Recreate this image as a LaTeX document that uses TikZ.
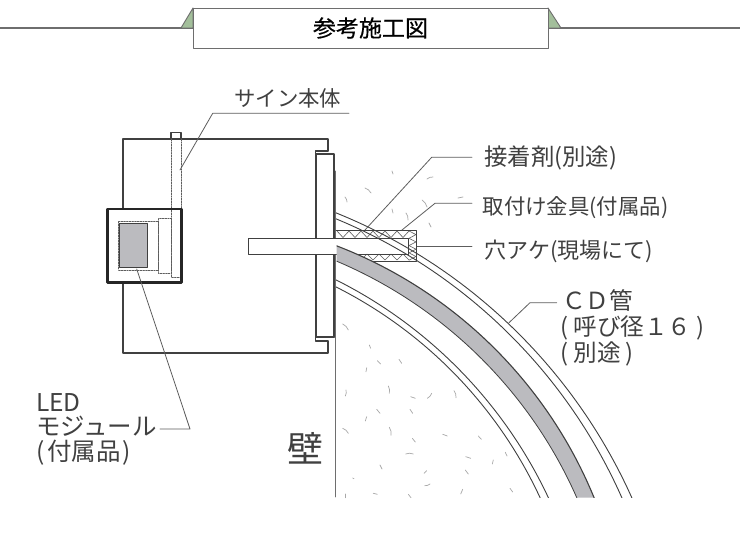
\documentclass[tikz,border=0pt]{standalone}
\usepackage{fontspec}
\setmainfont{Noto Sans CJK JP}
\newfontfamily\titlefont[FakeBold=0.5]{Noto Sans CJK JP}
\usetikzlibrary{positioning}
\definecolor{inkgray}{HTML}{404040}
\definecolor{framegray}{HTML}{6E6E6E}
\definecolor{tabgreen}{HTML}{A3BF9B}
\definecolor{fillgray}{HTML}{BBBBBF}
\definecolor{speckgray}{HTML}{A8A8A8}
\begin{document}
\begin{tikzpicture}[x=1pt, y=-1pt,
    line cap=round, line join=round,
    body/.style={draw=inkgray, line width=1.1pt},
    moduleframe/.style={draw=black!85, line width=2.2pt},
    hidden/.style={draw=inkgray!85, line width=0.7pt, dash pattern=on 1.6pt off 1.1pt},
    leader/.style={draw=inkgray!85, line width=0.8pt},
    curveline/.style={draw=inkgray, line width=0.9pt},
    filler/.style={draw=inkgray!85, line width=0.6pt},
    speck/.style={draw=speckgray, line width=0.7pt},
    caption/.style={anchor=west, inner sep=0pt, text=inkgray, align=left}]
\useasboundingbox (0,0) rectangle (740,540);
\fill[white] (0,0) rectangle (740,540);

% TITLE BAR
\draw[framegray, line width=1.2pt] (0,28) -- (740,28);
\filldraw[fill=tabgreen, draw=framegray, line width=0.9pt] (181,28) -- (193,8) -- (193,28) -- cycle;
\filldraw[fill=tabgreen, draw=framegray, line width=0.9pt] (548,8) -- (561,28) -- (548,28) -- cycle;
\node[draw=framegray, fill=white, line width=0.9pt, minimum width=355pt, minimum height=40pt,
  inner sep=0pt, font=\titlefont\fontsize{23}{25}\selectfont, text=black] (title) at (370.5,28) {参考施工図};

% SPECKLES
\foreach \xa/\ya/\xb/\yb in {345/197/347/202, 365/188/371/193, 392/171/393/174, 427/179/433/177,
    422/200/427/207, 392/209/393/213, 406/213/408/220, 429/223/431/227, 458/198/463/197,
    342.7/324/348.3/330, 369.3/345/370.7/348.3, 377.3/360.7/380.7/364, 399/359.3/401.7/363.3,
    366.7/367.7/366/371.7, 388.3/386/389.3/393.3, 346/390/345.3/396, 410.7/396.7/415.3/398.3,
    431.7/393.3/427.3/398.3, 454/390.7/456/397.7, 376.7/409.3/380/413.3, 410/409.3/412.7/413.3,
    366.7/416.7/365.3/421, 342.7/428.3/348.3/433.3, 389.3/427.3/391/435.3, 412.3/438.3/415.3/442,
    442.7/434.3/447.3/436, 478.3/436/481.3/439.3, 405.7/454/413.3/454, 465.7/456.7/470.7/458.3,
    505.3/452.3/507/456, 493.3/460/492.3/464, 380/465/382/469, 426.7/470.7/424/473.3,
    465.3/470/468.3/474, 352.7/478/354/478.7, 430/484/424.7/485.7, 373.3/493.3/377.3/494.3,
    408.3/494.3/411/497.7, 462.7/489.3/460.7/494, 510/488.3/512.7/492, 345/494/345/497.7}{
\draw[speck] (\xa,\ya) to[bend left=20] (\xb,\yb);
}

% SIGN BODY
\draw[body] (328,151) -- (328,139) -- (123,139) -- (123,353) -- (328,353) -- (328,341);
\draw[body] (328,151) -- (315.5,151) -- (315.5,154);
\draw[body] (328,341) -- (315.5,341) -- (315.5,337);
\draw[body, fill=white] (316,154) rectangle (334,337);
\draw[body] (171,139) -- (171,132.5) -- (181,132.5) -- (181,139);
\draw[hidden] (171,139) -- (171,209);
\draw[hidden] (181,139) -- (181,209);

% LED MODULE
\fill[white] (107.5,209) rectangle (181.5,282.5);
\draw[hidden] (181,209) -- (181,277) -- (171,277) -- (171,209);
\draw[hidden] (158.5,218.5) rectangle (171,273.5);
\draw[hidden] (118.5,221.5) rectangle (158.5,270);
\filldraw[fill=fillgray, draw=inkgray, line width=1.1pt] (119.5,223.5) rectangle (147.5,267.5);
\draw[moduleframe] (107.5,209) rectangle (181.5,282.5);

% WALL
\draw[framegray, line width=0.9pt] (335,171) -- (335,497);
\draw[inkgray, line width=1.6pt] (334.5,171) -- (334.5,238);
\draw[inkgray, line width=1.6pt] (334.5,254) -- (334.5,337);

% HOLE AND ADHESIVE
\draw[body, line width=0.9pt] (336,230) -- (416.5,230) -- (416.5,261) -- (352,261);
\foreach \i in {0,...,5}{
\draw[filler] (337+12*\i,231) -- ++(6,6.5) -- ++(6,-6.5);
}
\foreach \i in {0,...,3}{
\draw[filler] (361+12*\i,260) -- ++(6,-6) -- ++(6,6);
}
\foreach \i in {0,...,3}{
\draw[filler] (409,231+7.3*\i) -- ++(7,3.6) -- ++(-7,3.7);
}

% ANCHOR BOLT
\filldraw[fill=white, draw=none] (248,238) rectangle (335.5,254);
\draw[body, line width=0.9pt] (335,238) -- (248,238) -- (248,254) -- (335,254);
\draw[body, line width=0.9pt] (335,238) -- (408.5,238) -- (408.5,254) -- (335,254);

% CURVES
\begin{scope}
\clip (336,0) rectangle (740,497.5);
\draw[curveline] (131.4,721.4) circle (548);
\draw[curveline] (131.7,714.2) circle (535.7);
\draw[curveline] (129.4,693.8) circle (462.5);
\draw[curveline] (136.05,684.7) circle (445.1);
\end{scope}
\begin{scope}
\clip (336.5,0) rectangle (740,497.5);
\fill[fillgray] (336.5,245.7)
  arc[start angle={atan2(245.7-669.7,336.5-173.9)}, end angle={atan2(497.7-669.7,594-173.9)}, radius=453.9]
  -- (576.7,497.7)
  arc[start angle={atan2(497.7-681.1,576.7-159.6)}, end angle={atan2(261-681.1,336.5-159.6)}, radius=455.6]
  -- cycle;
\draw[inkgray, line width=1.1pt] (173.9,669.7) circle (453.9);
\draw[inkgray, line width=0.8pt] (159.6,681.1) circle (455.6);
\end{scope}

% LABELS
\node[caption, font=\fontsize{21.4}{25}\selectfont] (sign) at (234,98) {サイン本体};
\node[caption, font=\fontsize{23.4}{25}\selectfont] (glue) at (484,158) {接着剤(別途)};
\node[caption, font=\fontsize{21.4}{25}\selectfont] (bracket) at (482.5,208) {取付け金具(付属品)};
\node[caption, font=\fontsize{22}{25}\selectfont] (hole) at (484,251) {穴アケ(現場にて)};
\node[caption, font=\fontsize{23.6}{26}\selectfont] (cd) at (560,328) {\hspace{2pt}ＣＤ管\\( 呼び径１６ )\\( 別途 )};
\node[caption, font=\fontsize{24.5}{24.5}\selectfont] (led) at (36,429) {LED\\モジュール\\(\hspace{3pt}付属品\hspace{2pt})};
\node[caption, font=\fontsize{36}{38}\selectfont] (wall) at (287,448) {壁};

% LEADERS
\coordinate (signEnd) at (180,170);
\coordinate (signKnee) at (212.7,113.3);
\coordinate (signTail) at (349,113.3);
\draw[leader] (signEnd) -- (signKnee) -- (signTail);
\coordinate (glueEnd) at (365,230);
\coordinate (glueKnee) at (431.7,157.3);
\coordinate (glueTail) at (472,157.3);
\draw[leader] (glueEnd) -- (glueKnee) -- (glueTail);
\coordinate (bracketEnd) at (402,230);
\coordinate (bracketKnee) at (435,203.3);
\coordinate (bracketTail) at (472,203.3);
\draw[leader] (bracketEnd) -- (bracketKnee) -- (bracketTail);
\coordinate (holeEnd) at (417,246);
\coordinate (holeTail) at (472,246);
\draw[leader] (holeEnd) -- (holeTail);
\coordinate (cdEnd) at (509,322.7);
\coordinate (cdKnee) at (530,302.7);
\coordinate (cdTail) at (556.7,302.7);
\draw[leader] (cdEnd) -- (cdKnee) -- (cdTail);
\coordinate (ledEnd) at (136.7,269);
\coordinate (ledKnee) at (190,429);
\coordinate (ledTail) at (160,429);
\draw[leader] (ledEnd) -- (ledKnee) -- (ledTail);
\end{tikzpicture}
\end{document}
